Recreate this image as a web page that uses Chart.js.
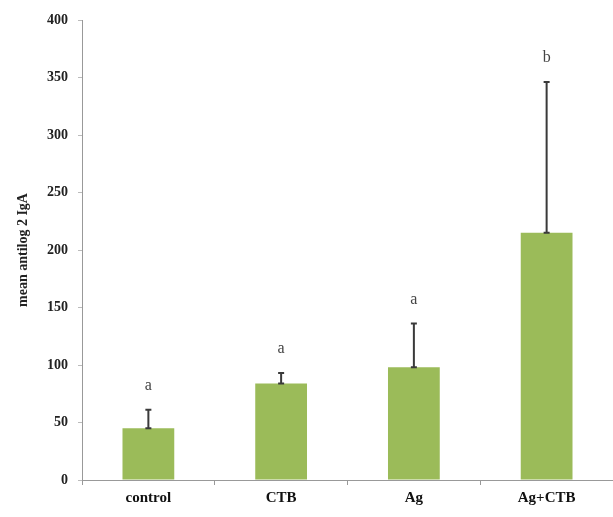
<!DOCTYPE html>
<html>
<head>
<meta charset="utf-8">
<script src="https://cdn.jsdelivr.net/npm/chart.js@4/dist/chart.umd.min.js"></script>
<style>
  html, body { margin: 0; padding: 0; background: #fff; }
  #wrap { width: 613px; height: 517px; }
</style>
</head>
<body>
<div id="wrap"><canvas id="iga"></canvas></div>
<script>
// data
const groups = ['control', 'CTB', 'Ag', 'Ag+CTB'];
const meanIgA = [45, 84, 98, 215];
const errUp = [16, 9, 38, 131];
const sigLetters = ['a', 'a', 'a', 'b'];
const yTicks = [0, 50, 100, 150, 200, 250, 300, 350, 400];

const serif = '"Liberation Serif", "Times New Roman", serif';

// error bars + letters drawn on top of bars
const errorBars = {
    id: 'errorBars',
    afterDatasetsDraw(chart) {
        const ctx = chart.ctx;
        const y = chart.scales.y;
        const bars = chart.getDatasetMeta(0).data;
        ctx.save();
        ctx.strokeStyle = '#3a3a3a';
        ctx.lineWidth = 2;
        bars.forEach((bar, i) => {
            const x = bar.x;
            const yLo = y.getPixelForValue(meanIgA[i]);
            const yHi = y.getPixelForValue(meanIgA[i] + errUp[i]);
            ctx.beginPath();
            ctx.moveTo(x, yLo);
            ctx.lineTo(x, yHi);
            ctx.moveTo(x - 3, yHi);
            ctx.lineTo(x + 3, yHi);
            ctx.moveTo(x - 3, yLo);
            ctx.lineTo(x + 3, yLo);
            ctx.stroke();

            ctx.fillStyle = '#444';
            ctx.font = '16px ' + serif;
            ctx.textAlign = 'center';
            ctx.textBaseline = 'bottom';
            ctx.fillText(sigLetters[i], x, yHi - 16);
        });
        ctx.restore();
    }
};

new Chart(document.getElementById('iga'), {
    type: 'bar',
    data: {
        labels: groups,
        datasets: [{
            data: meanIgA,
            backgroundColor: '#9bbb59',
            borderWidth: 0,
            categoryPercentage: 1,
            barPercentage: 0.39
        }]
    },
    options: {
        responsive: true,
        maintainAspectRatio: false,
        animation: false,
        layout: { padding: { top: 20, right: 0, left: 15, bottom: 0 } },
        plugins: {
            legend: { display: false },
            tooltip: { enabled: false }
        },
        scales: {
            x: {
                grid: { drawOnChartArea: false, drawTicks: true, tickLength: 5, color: '#999', offset: true },
                border: { display: true, color: '#999', width: 1 },
                ticks: { color: '#111', font: { family: serif, size: 15, weight: 'bold' }, padding: 4 },
                afterFit(scale) { scale.height = 37; }
            },
            y: {
                min: 0,
                max: 400,
                afterBuildTicks(scale) { scale.ticks = yTicks.map(v => ({ value: v })); },
                grid: { drawOnChartArea: false, drawTicks: true, tickLength: 4, color: '#bbb' },
                border: { display: true, color: '#999', width: 1 },
                ticks: { color: '#222', font: { family: serif, size: 14, weight: 'bold' }, padding: 10 },
                title: {
                    display: true,
                    text: 'mean antilog 2 IgA',
                    color: '#222',
                    font: { family: serif, size: 14, weight: 'bold' },
                    padding: { top: 0, bottom: 2 }
                },
                afterFit(scale) { scale.width = 67; }
            }
        }
    },
    plugins: [errorBars]
});
</script>
</body>
</html>
